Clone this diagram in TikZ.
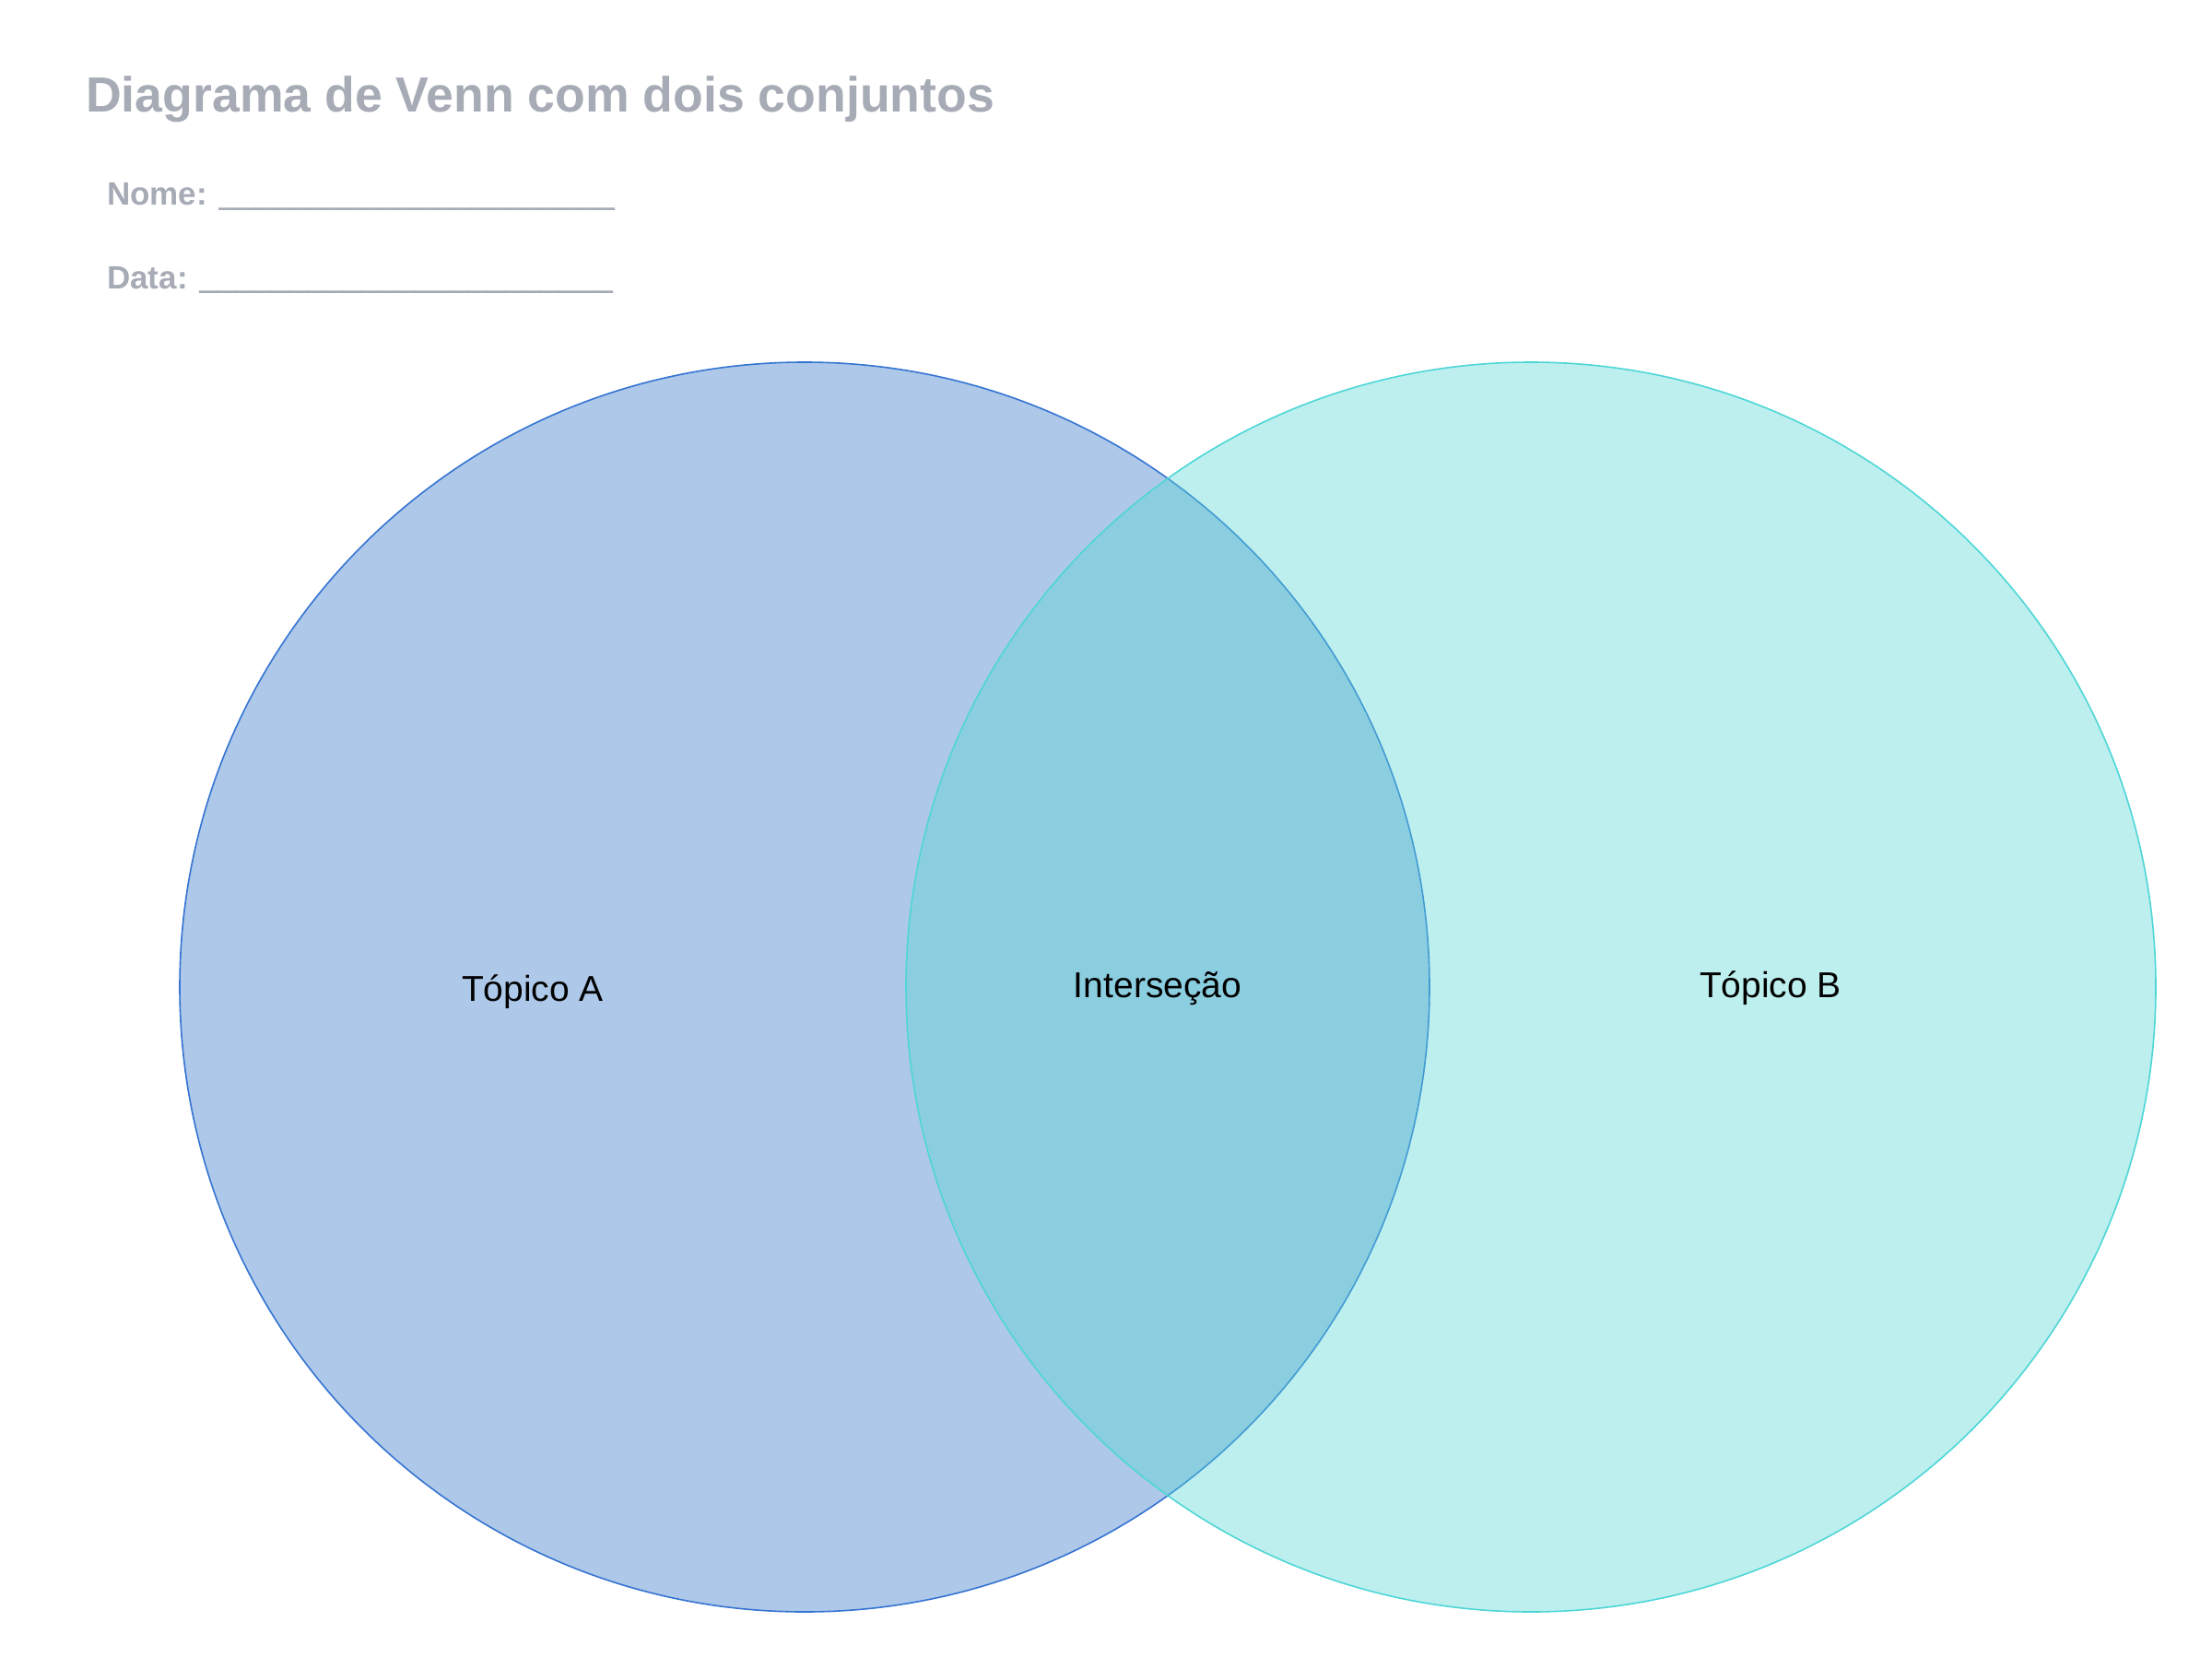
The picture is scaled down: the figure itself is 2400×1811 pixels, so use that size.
\documentclass[tikz,border=0pt]{standalone}
\usepackage{fontspec}
\setmainfont{Liberation Sans}
\definecolor{titlegray}{HTML}{A6ABB5}
\definecolor{afill}{HTML}{ADC8E8}
\definecolor{aline}{HTML}{3574D2}
\definecolor{bfill}{RGB}{88,215,214}
\definecolor{bline}{HTML}{4ED6D6}
\newcommand{\blankline}[1]{{\addfontfeature{FakeBold=3}#1}}
\tikzset{
  setA/.style={circle, minimum size=1356pt, inner sep=0pt, fill=afill, draw=aline, line width=1.6pt},
  setB/.style={circle, minimum size=1356pt, inner sep=0pt, fill=bfill, fill opacity=0.4, draw=bline, draw opacity=1, line width=1.6pt},
  label/.style={font=\fontsize{39}{46}\selectfont, text=black, inner sep=0pt},
  heading/.style={font=\fontsize{53.6}{62}\selectfont\bfseries, text=titlegray, inner sep=0pt, anchor=base west},
  field/.style={font=\fontsize{35}{42}\selectfont\bfseries, text=titlegray, inner sep=0pt, anchor=base west}
}
\begin{document}
\begin{tikzpicture}[x=1pt,y=-1pt]
\useasboundingbox (0,0) rectangle (2400,1811);
\fill[white] (0,0) rectangle (2400,1811);
\node[heading] (title) at (93,122) {Diagrama de Venn com dois conjuntos};
\node[field] (nome) at (116,223) {Nome: \blankline{\_\_\_\_\_\_\_\_\_\_\_\_\_\_\_\_\_\_\_\_\_\_}};
\node[field] (data) at (116,313) {Data: \blankline{\_\_\_\_\_\_\_\_\_\_\_\_\_\_\_\_\_\_\_\_\_\_\_}};
\node[setA] (A) at (873,1071) {};
\node[setB] (B) at (1661,1071) {};
\node[label, anchor=base] (la) at (578,1086) {Tópico A};
\node[label, anchor=base] (lab) at (1256,1082) {Interseção};
\node[label, anchor=base] (lb) at (1921,1082) {Tópico B};
\end{tikzpicture}
\end{document}
